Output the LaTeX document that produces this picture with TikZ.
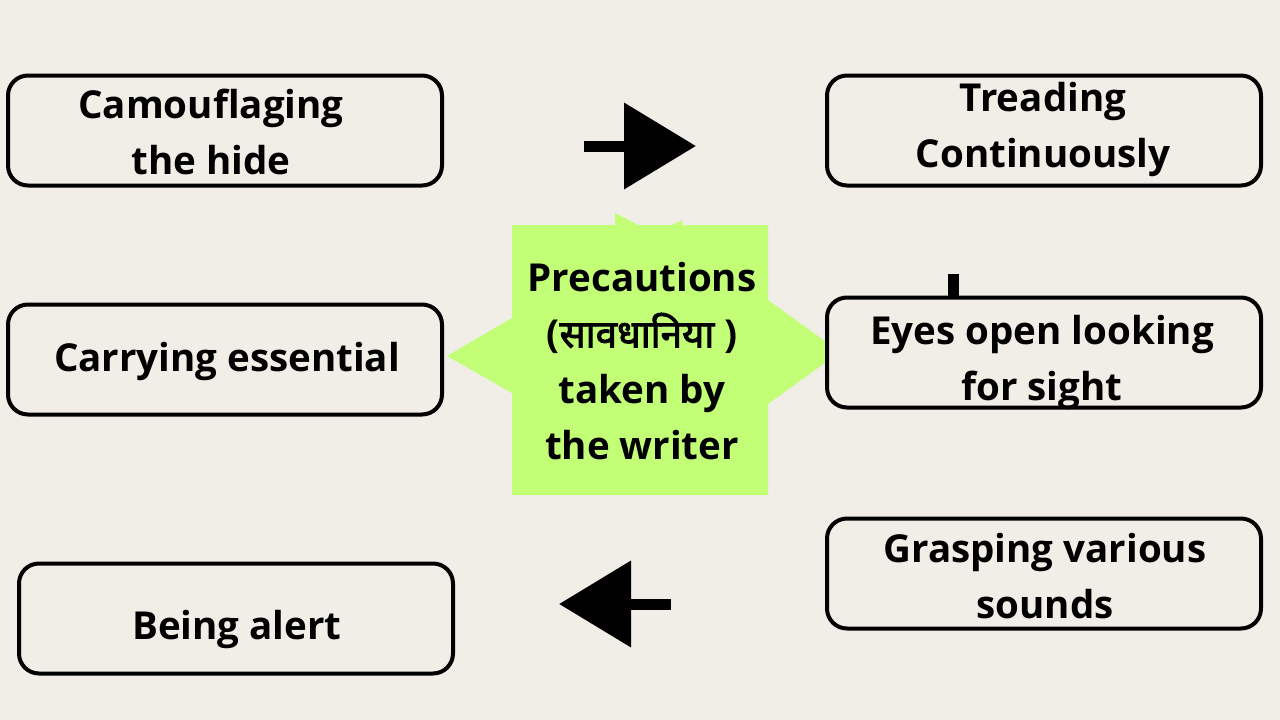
\documentclass[tikz,border=0pt]{standalone}
\usepackage{fontspec}
\setmainfont{Open Sans}
\newfontfamily\deva[Script=Devanagari,FakeBold=2.5]{Noto Sans}
\usetikzlibrary{arrows.meta}
\definecolor{bg}{HTML}{F1EDE7}
\definecolor{lime}{HTML}{C2FF76}
\tikzset{
  card/.style={draw=black, line width=4pt, rounded corners=20pt, fill=bg,
    minimum width=434pt, minimum height=110pt, inner sep=0pt},
  label/.style={align=center, font=\fontsize{38.5}{56}\selectfont\bfseries, inner sep=0pt},
  bigarrow/.style={line width=11pt, -{Triangle[length=72pt,width=84pt]}}
}
\begin{document}
\begin{tikzpicture}[x=1pt,y=-1pt]
\useasboundingbox[fill=bg] (0,0) rectangle (1280,720);
% central shape
\fill[lime] (512,225) -- (768,225) -- (768,300) -- (840,352) -- (768,404) -- (768,495)
  -- (512,495) -- (512,393) -- (447,356) -- (512,318) -- cycle;
\fill[lime] (615,226) -- (615,213) -- (640,226) -- cycle;
\fill[lime] (670,226) -- (682,220) -- (682,226) -- cycle;
\node[label] (center) at (642,361) {Precautions\\({\deva सावधानिया} )\\taken by\\the writer};
% stub
\fill[black] (948,274) rectangle (959,298);
% boxes
\node[card] (camo) at (225,130.5) {};
\node[card] (tread) at (1044,130.5) {};
\node[card] (carry) at (225,359.5) {};
\node[card] (eyes) at (1044,352.5) {};
\node[card] (grasp) at (1044,573.5) {};
\node[card] (alert) at (236,618.5) {};
% texts
\node[label] (camot) at (211,132) {Camouflaging\\the hide};
\node[label] (treadt) at (1043,129) {Treading\\Continuously};
\node[label] (carryt) at (227,361) {Carrying essential};
\node[label] (eyest) at (1042,362) {Eyes open looking\\for sight};
\node[label] (graspt) at (1045,576) {Grasping various\\sounds};
\node[label] (alertt) at (237,629) {Being alert};
% arrows
\coordinate (r1) at (584,146);
\coordinate (r2) at (696,146);
\draw[bigarrow] (r1) -- (r2);
\coordinate (l1) at (671,604);
\coordinate (l2) at (559,604);
\draw[bigarrow] (l1) -- (l2);
\end{tikzpicture}
\end{document}
